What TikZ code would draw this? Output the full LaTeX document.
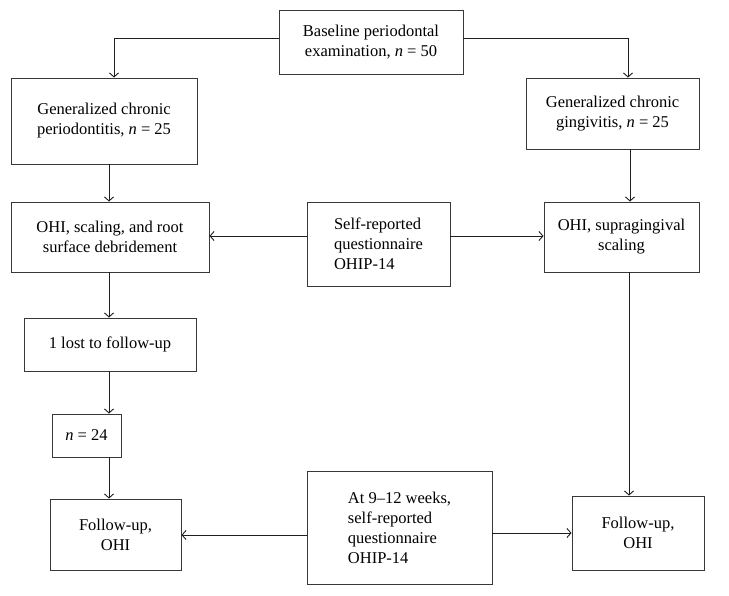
\documentclass[tikz,border=0pt]{standalone}
\usepackage{fontspec}
\setmainfont{Liberation Serif}
\usetikzlibrary{arrows.meta}
\begin{document}
\begin{tikzpicture}[x=1pt,y=-1pt,
  bx/.style 2 args={draw=black!78, line width=0.9pt, minimum width=#1pt, minimum height=#2pt,
    inner sep=0pt, align=center, font=\fontsize{16.5}{20}\selectfont},
  arr/.style={-{Straight Barb[length=4pt,width=9pt]}, line width=0.9pt, draw=black!88}]
\fill[white] (0,0) rectangle (729,595);
\useasboundingbox (0,0) rectangle (729,595);

\node[bx={184}{64}] (top) at (371,42) {Baseline periodontal\\examination, \textit{n}~=~50};
\node[bx={186}{86}] (gcp) at (104,121) {Generalized chronic\\periodontitis, \textit{n}~=~25};
\node[bx={173}{71}] (gcg) at (612.5,113.5) {Generalized chronic\\gingivitis, \textit{n}~=~25};
\node[bx={198}{70}] (ohil) at (110,237) {OHI, scaling, and root\\surface debridement};
\node[bx={143}{84}, align=left] (self) at (378.5,244) {Self-reported\\questionnaire\\OHIP-14};
\node[bx={155}{70}] (ohir) at (621.5,237) {OHI, supragingival\\scaling};
\node[bx={172}{53}] (lost) at (110,344.5) {1 lost to follow-up};
\node[bx={69}{43}] (n24) at (86.5,435.5) {\textit{n}~=~24};
\node[bx={131}{71}] (ful) at (115.5,534.5) {Follow-up,\\OHI};
\node[bx={185}{113}, align=left] (at) at (399.5,527.5) {At 9–12 weeks,\\self-reported\\questionnaire\\OHIP-14};
\node[bx={132}{74}] (fur) at (638,533) {Follow-up,\\OHI};

\coordinate (tl) at (114,38);
\coordinate (tr) at (628,38);
\coordinate (lx) at (109,0);
\coordinate (rx) at (630,0);
\coordinate (rx2) at (629,0);
\coordinate (hy1) at (0,236);
\coordinate (hy2) at (0,535);
\coordinate (hy3) at (0,533);

\draw[arr] (top.west |- tl) -- (tl) -- (gcp.north -| tl);
\draw[arr] (top.east |- tr) -- (tr) -- (gcg.north -| tr);
\draw[arr] (gcp.south -| lx) -- (ohil.north -| lx);
\draw[arr] (ohil.south -| lx) -- (lost.north -| lx);
\draw[arr] (lost.south -| lx) -- (n24.north -| lx);
\draw[arr] (n24.south -| lx) -- (ful.north -| lx);
\draw[arr] (gcg.south -| rx) -- (ohir.north -| rx);
\draw[arr] (ohir.south -| rx2) -- (fur.north -| rx2);
\draw[arr] (self.west |- hy1) -- (ohil.east |- hy1);
\draw[arr] (self.east |- hy1) -- (ohir.west |- hy1);
\draw[arr] (at.west |- hy2) -- (ful.east |- hy2);
\draw[arr] (at.east |- hy3) -- (fur.west |- hy3);
\end{tikzpicture}
\end{document}
